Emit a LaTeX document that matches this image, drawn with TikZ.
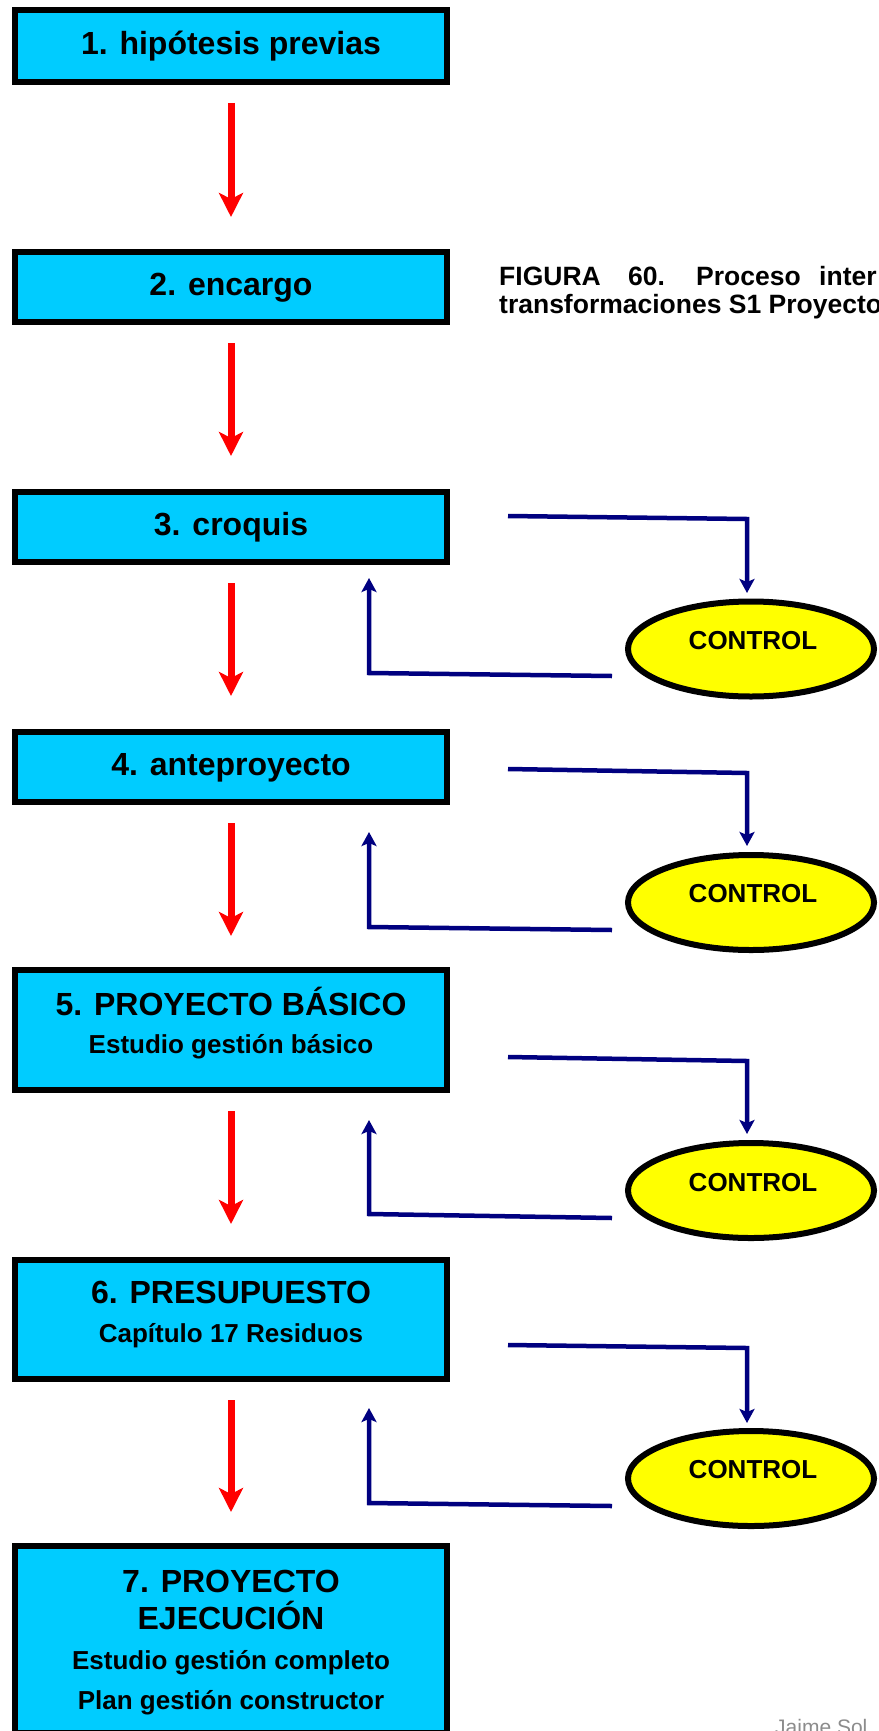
\documentclass[tikz,border=0pt]{standalone}
\usepackage{fontspec}
\setmainfont{Liberation Sans}
\usetikzlibrary{arrows.meta,shapes.geometric}
\definecolor{boxcyan}{RGB}{0,204,255}
\definecolor{ctrlyellow}{RGB}{255,255,0}
\definecolor{navyline}{RGB}{0,0,128}
\definecolor{redarrow}{RGB}{255,0,0}
\definecolor{wmgray}{RGB}{140,140,140}
\begin{document}
\begin{tikzpicture}[x=1pt,y=-1pt,
  stagebox/.style={draw=black,fill=boxcyan,line width=6pt,rectangle,inner sep=0pt,minimum width=432pt},
  titletxt/.style={anchor=base,inner sep=0pt,font=\fontsize{32}{38}\selectfont\bfseries},
  subtxt/.style={anchor=base,inner sep=0pt,font=\fontsize{26}{31}\selectfont\bfseries},
  ctrlnode/.style={draw=black,fill=ctrlyellow,line width=6pt,ellipse,inner sep=0pt,minimum width=246pt,minimum height=95pt},
  ctrltxt/.style={inner sep=0pt,font=\fontsize{26}{31}\selectfont\bfseries},
  captxt/.style={anchor=base west,inner sep=0pt,font=\fontsize{26.5}{31}\selectfont\bfseries},
  redarr/.style={draw=redarrow,line width=7pt,-{Stealth[length=24pt,width=24pt,inset=6pt]}},
  navyarr/.style={draw=navyline,line width=4.5pt,line join=miter,-{Stealth[length=14pt,width=15pt,inset=3pt]}},
]
\useasboundingbox (0,0) rectangle (878,1731);
\fill[white] (0,0) rectangle (878,1731);

% stage boxes
\node[stagebox,minimum height=72pt] (b1) at (231,46) {};
\node[stagebox,minimum height=70pt] (b2) at (231,287) {};
\node[stagebox,minimum height=70pt] (b3) at (231,527) {};
\node[stagebox,minimum height=70pt] (b4) at (231,767) {};
\node[stagebox,minimum height=120pt] (b5) at (231,1030) {};
\node[stagebox,minimum height=119pt] (b6) at (231,1319.5) {};
\node[stagebox,minimum height=187pt] (b7) at (231,1639.5) {};

% box texts
\node[titletxt] (t1) at (231,55) {1. hipótesis previas};
\node[titletxt] (t2) at (231,295) {2. encargo};
\node[titletxt] (t3) at (231,535) {3. croquis};
\node[titletxt] (t4) at (231,775) {4. anteproyecto};
\node[titletxt] (t5a) at (231,1015) {5. PROYECTO BÁSICO};
\node[subtxt] (t5b) at (231,1053) {Estudio gestión básico};
\node[titletxt] (t6a) at (231,1303) {6. PRESUPUESTO};
\node[subtxt] (t6b) at (231,1342) {Capítulo 17 Residuos};
\node[titletxt] (t7a) at (231,1592) {7. PROYECTO};
\node[titletxt] (t7b) at (231,1629) {EJECUCIÓN};
\node[subtxt] (t7c) at (231,1669) {Estudio gestión completo};
\node[subtxt] (t7d) at (231,1709) {Plan gestión constructor};

% red flow arrows
\draw[redarr] ([yshift=-18pt]b1.south) -- ([yshift=32pt]b2.north);
\draw[redarr] ([yshift=-18pt]b2.south) -- ([yshift=33pt]b3.north);
\draw[redarr] ([yshift=-18pt]b3.south) -- ([yshift=33pt]b4.north);
\draw[redarr] ([yshift=-18pt]b4.south) -- ([yshift=31pt]b5.north);
\draw[redarr] ([yshift=-18pt]b5.south) -- ([yshift=33pt]b6.north);
\draw[redarr] ([yshift=-18pt]b6.south) -- ([yshift=31pt]b7.north);

% caption
\node[captxt] (cap1) at (499,285) {FIGURA};
\node[captxt] (cap2) at (628,285) {60.};
\node[captxt] (cap3) at (696,285) {Proceso};
\node[captxt] (cap4) at (819,285) {inter};
\node[captxt] (cap5) at (499,313) {transformaciones S1 Proyecto};

% control loops
\node[ctrlnode] (e3) at (751,649) {};
\node[ctrltxt] (c3t) at (753,641) {CONTROL};
\coordinate (s3) at (508,516); \coordinate (k3) at (747,519); \coordinate (d3) at (747,593);
\coordinate (r3) at (612,676); \coordinate (l3) at (369,673); \coordinate (u3) at (369,578);
\draw[navyarr] (s3) -- (k3) -- (d3);
\draw[navyarr] (r3) -- (l3) -- (u3);

\node[ctrlnode] (e4) at (751,902.5) {};
\node[ctrltxt] (c4t) at (753,894) {CONTROL};
\coordinate (s4) at (508,769); \coordinate (k4) at (747,773); \coordinate (d4) at (747,846);
\coordinate (r4) at (612,930); \coordinate (l4) at (369,927); \coordinate (u4) at (369,832);
\draw[navyarr] (s4) -- (k4) -- (d4);
\draw[navyarr] (r4) -- (l4) -- (u4);

\node[ctrlnode] (e5) at (751,1190.5) {};
\node[ctrltxt] (c5t) at (753,1183) {CONTROL};
\coordinate (s5) at (508,1057); \coordinate (k5) at (747,1061); \coordinate (d5) at (747,1134);
\coordinate (r5) at (612,1218); \coordinate (l5) at (369,1214); \coordinate (u5) at (369,1120);
\draw[navyarr] (s5) -- (k5) -- (d5);
\draw[navyarr] (r5) -- (l5) -- (u5);

\node[ctrlnode] (e6) at (751,1478.5) {};
\node[ctrltxt] (c6t) at (753,1470) {CONTROL};
\coordinate (s6) at (508,1345); \coordinate (k6) at (747,1348); \coordinate (d6) at (747,1423);
\coordinate (r6) at (612,1506); \coordinate (l6) at (369,1503); \coordinate (u6) at (369,1408);
\draw[navyarr] (s6) -- (k6) -- (d6);
\draw[navyarr] (r6) -- (l6) -- (u6);

% watermark
\node[anchor=base west,inner sep=0pt,text=wmgray,font=\fontsize{21}{25}\selectfont] (wm) at (775,1734) {Jaime Sol};
\end{tikzpicture}
\end{document}
